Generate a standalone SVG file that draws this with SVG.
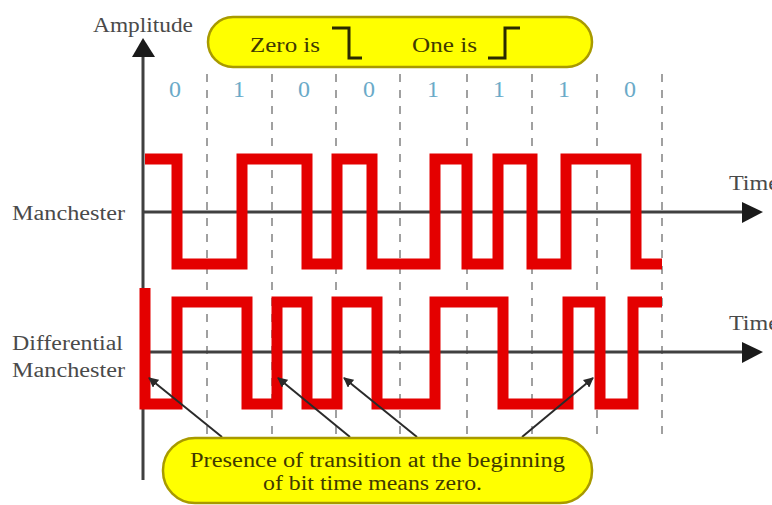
<svg xmlns="http://www.w3.org/2000/svg" width="772" height="505" viewBox="0 0 772 505">
<defs>
<style>
.lbl{font-family:"Liberation Serif","Times New Roman",serif;fill:#4a4a4a;font-size:20px}
.note{font-family:"Liberation Serif","Times New Roman",serif;fill:#3f3a00;font-size:20px}
.bit{font-family:"Liberation Serif","Times New Roman",serif;fill:#6aaac8;font-size:24px;text-anchor:middle}
.pill{fill:#ffff00;stroke:#a89a00;stroke-width:2.5}
.axis{stroke:#404040;stroke-width:3;fill:none}
.grid{stroke:#a0a0a0;stroke-width:2;stroke-dasharray:8 8;fill:none}
.wave{stroke:#e40000;stroke-width:11;fill:none;stroke-linejoin:miter;stroke-linecap:butt}
.ptr{stroke:#2a2a2a;stroke-width:2;fill:none}
</style>
<marker id="ah" viewBox="0 0 10 10" refX="9" refY="5" markerWidth="5" markerHeight="5" orient="auto" markerUnits="strokeWidth">
<path d="M0,0 L10,5 L0,10 Z" fill="#2a2a2a"/>
</marker>
</defs>
<rect width="772" height="505" fill="#ffffff"/>

<g id="grid">
<path class="grid" d="M207,74V440M272,74V440M336,74V440M400,74V440M467,74V440M532,74V440M597,74V440M662,74V440"/>
</g>

<g id="bits">
<text class="bit" x="175" y="97">0</text>
<text class="bit" x="239" y="97">1</text>
<text class="bit" x="304" y="97">0</text>
<text class="bit" x="369" y="97">0</text>
<text class="bit" x="433" y="97">1</text>
<text class="bit" x="499" y="97">1</text>
<text class="bit" x="564" y="97">1</text>
<text class="bit" x="630" y="97">0</text>
</g>

<g id="axes">
<path class="axis" d="M143,56V480"/>
<path d="M132,57 L143,38 L155,57 Z" fill="#1a1a1a"/>
<path class="axis" d="M143,212H744"/>
<path d="M742,202 L763,212 L742,223 Z" fill="#1a1a1a"/>
<path class="axis" d="M143,352H744"/>
<path d="M742,342 L763,352 L742,363 Z" fill="#1a1a1a"/>
<text class="lbl" x="93" y="32" textLength="100" lengthAdjust="spacingAndGlyphs">Amplitude</text>
<text class="lbl" x="729" y="190" textLength="50" lengthAdjust="spacingAndGlyphs">Time</text>
<text class="lbl" x="729" y="330" textLength="50" lengthAdjust="spacingAndGlyphs">Time</text>
</g>

<g id="legend">
<rect class="pill" x="208" y="17" width="384" height="50" rx="25" ry="25"/>
<text class="note" x="250" y="52" textLength="70" lengthAdjust="spacingAndGlyphs">Zero is</text>
<path d="M332,28H349V58H362" stroke="#2a2a00" stroke-width="3" fill="none"/>
<text class="note" x="412" y="52" textLength="65" lengthAdjust="spacingAndGlyphs">One is</text>
<path d="M488,58H505V28H520" stroke="#2a2a00" stroke-width="3" fill="none"/>
</g>

<g id="manchester">
<text class="lbl" x="12" y="220" textLength="113" lengthAdjust="spacingAndGlyphs">Manchester</text>
<path class="wave" d="M145,159H177V264H242V159H307V264H337V159H372V264H435V159H467V264H498V159H532V264H566V159H636V264H662"/>
</g>

<g id="differential">
<text class="lbl" x="12" y="350" textLength="111" lengthAdjust="spacingAndGlyphs">Differential</text>
<text class="lbl" x="12" y="377" textLength="113" lengthAdjust="spacingAndGlyphs">Manchester</text>
<path class="wave" d="M145,288V404H177V302H247V404H277V302H307V404H337V302H377V404H435V302H503V404H568V302H600V404H633V302H662"/>
</g>

<g id="connectors">
<path class="ptr" d="M222,437L149,378" marker-end="url(#ah)"/>
<path class="ptr" d="M350,437L278,378" marker-end="url(#ah)"/>
<path class="ptr" d="M417,437L344,378" marker-end="url(#ah)"/>
<path class="ptr" d="M522,437L593,378" marker-end="url(#ah)"/>
</g>

<g id="callout">
<rect class="pill" x="163" y="438" width="429" height="65" rx="32" ry="32"/>
<text class="note" x="190" y="467" textLength="375" lengthAdjust="spacingAndGlyphs">Presence of transition at the beginning</text>
<text class="note" x="263" y="490" textLength="219" lengthAdjust="spacingAndGlyphs">of bit time means zero.</text>
</g>
</svg>
